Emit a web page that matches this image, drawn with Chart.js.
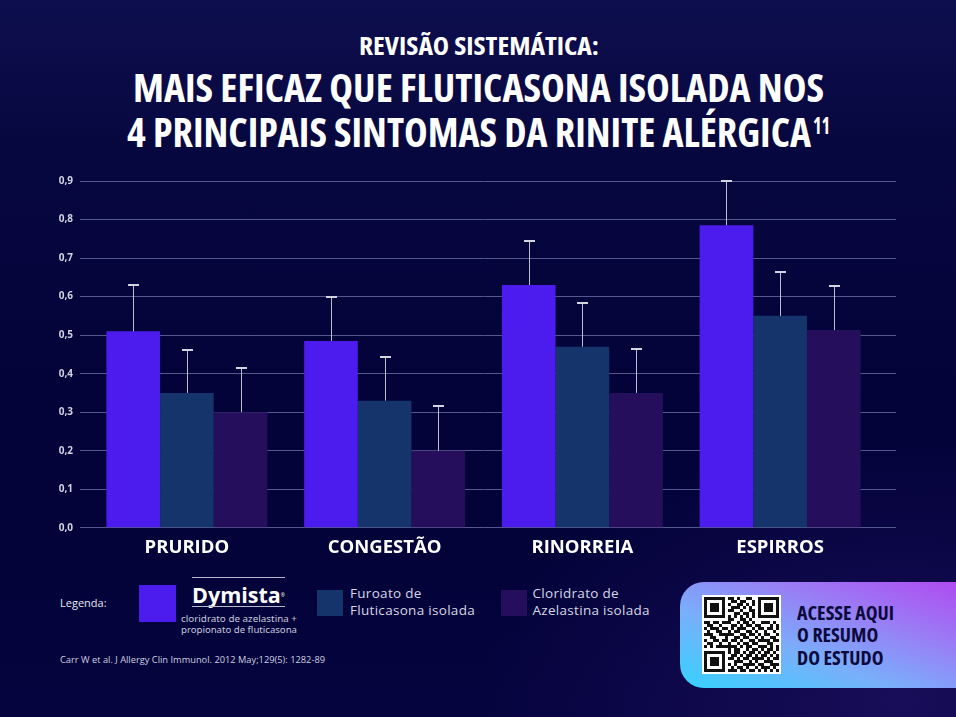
<!DOCTYPE html>
<html>
<head>
<meta charset="utf-8">
<script src="https://cdn.jsdelivr.net/npm/chart.js@4.4.1/dist/chart.umd.min.js"></script>
<style>
  html, body { margin:0; padding:0; }
  body { width:956px; height:717px; overflow:hidden; position:relative;
    background:
      radial-gradient(ellipse 420px 260px at 900px 700px, rgba(40,20,110,0.55), rgba(40,20,110,0) 100%),
      linear-gradient(to bottom, #0d0e4d 0%, #07073f 22%, #03033a 55%, #03033a 80%, #05043e 100%);
    font-family: "Open Sans", "Noto Sans", sans-serif; }
  .abs { position:absolute; white-space:nowrap; }
  .title { font-family:"Open Sans", "Liberation Sans Narrow", sans-serif; font-weight:700; font-stretch:75%; color:#fff; line-height:1; }
  .fit { display:inline-block; transform-origin:left top; }
  #chartWrap { position:absolute; left:0; top:160px; width:956px; height:410px; }
  .sw { position:absolute; }
  .legtxt { color:#d6d6e6; font-size:13.5px; line-height:16.5px; letter-spacing:0.3px; }
  #qrbox { position:absolute; left:680px; top:582px; width:310px; height:106px; border-radius:24px;
    background: linear-gradient(20deg, #35d2ff 0%, #78b0fb 35%, #9a7cf5 65%, #b342f0 100%); overflow:hidden; }
  #qrwhite { position:absolute; left:22px; top:13px; width:79px; height:79px; background:#fff; }
  .qrt { font-family:"Open Sans", "Liberation Sans Narrow", sans-serif; font-weight:700; font-stretch:75%; color:#0c0a3c; font-size:19.6px; line-height:1; }
</style>
</head>
<body>
<div class="abs title" style="left:359px; top:33.7px; font-size:24.5px;"><span class="fit" data-w="240">REVISÃO SISTEMÁTICA:</span></div>
<div class="abs title" style="left:133px; top:67.2px; font-size:39.2px;"><span class="fit" data-w="691">MAIS EFICAZ QUE FLUTICASONA ISOLADA NOS</span></div>
<div class="abs title" style="left:127px; top:111.9px; font-size:40.6px;"><span class="fit" data-w="684">4 PRINCIPAIS SINTOMAS DA RINITE ALÉRGICA</span></div>
<div class="abs title" style="left:813px; top:115px; font-size:22.4px;"><span class="fit" data-w="17">11</span></div>

<div id="chartWrap"><canvas id="c" width="956" height="410" style="width:956px;height:410px;"></canvas></div>

<!-- legend -->
<div class="abs" style="left:60px; top:595px; font-size:11px; color:#e6e6f0; line-height:16px;">Legenda:</div>
<div class="sw" style="left:139px; top:585px; width:37px; height:37px; background:#4b1ced;"></div>
<div class="abs" style="left:192px; top:577px; width:93px; height:1px; background:#b8b8cc;"></div>
<div class="abs" style="left:192px; top:583px; width:93px; text-align:center; color:#fff; font-weight:700; font-size:21.5px; line-height:24px;">Dymista<span style="font-size:5px; vertical-align:top; font-weight:400;">®</span></div>
<div class="abs" style="left:192px; top:606px; width:93px; height:1px; background:#b8b8cc;"></div>
<div class="abs" style="left:181px; top:613px; font-family:'Noto Sans', sans-serif; font-size:9px; line-height:11.4px; color:#c8c8dc;"><span class="fit" data-w="116">cloridrato de azelastina +</span><br><span class="fit" data-w="116">propionato de fluticasona</span></div>

<div class="sw" style="left:317px; top:590px; width:26px; height:26px; background:#14346b;"></div>
<div class="abs legtxt" style="left:350px; top:585.2px;">Furoato de<br>Fluticasona isolada</div>
<div class="sw" style="left:501px; top:590px; width:26px; height:26px; background:#250f5c;"></div>
<div class="abs legtxt" style="left:532.5px; top:585.2px;">Cloridrato de<br>Azelastina isolada</div>

<div class="abs" style="left:60px; top:654px; font-size:9px; line-height:12px; color:#cfcfe0;"><span class="fit" data-w="265">Carr W et al. J Allergy Clin Immunol. 2012 May;129(5): 1282-89</span></div>

<div id="qrbox">
  <div id="qrwhite"><canvas id="qr" width="79" height="79"></canvas></div>
  <div class="abs qrt" style="left:117px; top:20.6px;"><span class="fit" data-w="97" id="qt1">ACESSE AQUI</span></div>
  <div class="abs qrt" style="left:117px; top:43.2px;"><span class="fit qsame">O RESUMO</span></div>
  <div class="abs qrt" style="left:117px; top:65.6px;"><span class="fit qsame">DO ESTUDO</span></div>
</div>

<script>
// ---- data ----
const categories = ["PRURIDO", "CONGESTÃO", "RINORREIA", "ESPIRROS"];
const dymista      = [0.51, 0.485, 0.63, 0.785];
const dymistaErr   = [0.63, 0.60, 0.745, 0.90];
const fluticasona    = [0.35, 0.33, 0.47, 0.55];
const fluticasonaErr = [0.462, 0.444, 0.583, 0.665];
const azelastina     = [0.30, 0.20, 0.35, 0.513];
const azelastinaErr  = [0.415, 0.315, 0.463, 0.628];
const yTicks = [0, 0.1, 0.2, 0.3, 0.4, 0.5, 0.6, 0.7, 0.8, 0.9];

const gridColor = '#55588c';

const errorBars = {
  id: 'errorBars',
  afterDatasetsDraw(chart) {
    const ctx = chart.ctx;
    const ys = chart.scales.y;
    chart.data.datasets.forEach((ds, di) => {
      const meta = chart.getDatasetMeta(di);
      meta.data.forEach((bar, i) => {
        const x = Math.round(bar.x) + 0.5;
        const yTop = ys.getPixelForValue(ds.errorHigh[i]);
        ctx.save();
        ctx.strokeStyle = '#bdbdcc';
        ctx.lineWidth = 1;
        ctx.beginPath();
        ctx.moveTo(x, bar.y);
        ctx.lineTo(x, yTop);
        ctx.stroke();
        ctx.strokeStyle = '#d4d4e0';
        ctx.lineWidth = 2;
        ctx.beginPath();
        ctx.moveTo(x - 5.5, Math.round(yTop));
        ctx.lineTo(x + 5.5, Math.round(yTop));
        ctx.stroke();
        ctx.restore();
      });
    });
  }
};

new Chart(document.getElementById('c'), {
  type: 'bar',
  data: {
    labels: categories,
    datasets: [
      { label: 'Dymista', data: dymista, errorHigh: dymistaErr, backgroundColor: '#4b1ced' },
      { label: 'Furoato de Fluticasona isolada', data: fluticasona, errorHigh: fluticasonaErr, backgroundColor: '#14346b' },
      { label: 'Cloridrato de Azelastina isolada', data: azelastina, errorHigh: azelastinaErr, backgroundColor: '#250f5c' }
    ]
  },
  options: {
    responsive: false,
    devicePixelRatio: 1,
    animation: false,
    datasets: { bar: { barPercentage: 1.0, categoryPercentage: 0.814 } },
    layout: { padding: { left: 0, right: 60, top: 21, bottom: 2 } },
    plugins: { legend: { display: false }, tooltip: { enabled: false } },
    scales: {
      x: {
        grid: { display: false, drawTicks: false },
        border: { display: false },
        ticks: { color: '#ffffff', font: { family: 'Open Sans', size: 18.5, weight: '700' }, padding: 9, maxRotation: 0 }
      },
      y: {
        min: 0, max: 0.9,
        afterBuildTicks(scale) { scale.ticks = yTicks.map(v => ({ value: v })); },
        afterFit(scale) { scale.width = 88; },
        grid: { color: gridColor, lineWidth: 1, tickLength: 8, drawTicks: true },
        border: { display: false },
        ticks: { color: '#d2d2e2', font: { family: 'Open Sans', size: 10, weight: '700' }, padding: 7,
                 callback: v => Number(v).toFixed(1).replace('.', ',') }
      },
      y2: {
        position: 'right',
        min: 0, max: 0.9,
        afterBuildTicks(scale) { scale.ticks = yTicks.map(v => ({ value: v })); },
        afterFit(scale) { scale.width = 17; },
        grid: { color: gridColor, lineWidth: 1, tickLength: 17, drawTicks: true, drawOnChartArea: false },
        border: { display: false },
        ticks: { display: false }
      }
    }
  },
  plugins: [errorBars]
});

// ---- QR decoration ----
const F = ["1111111","1000001","1011101","1011101","1011101","1000001","1111111"];
const mid = ["110100110","011011001","100110101","011101010","110010011","001101101","101010101"];
const qrRows = [];
for (let i = 0; i < 7; i++) qrRows.push(F[i] + "0" + mid[i] + "0" + F[i]);
qrRows.push("00000000" + "110011010" + "00000000");
qrRows.push("1101101110010110100111010");
qrRows.push("0110010001101011011000101");
qrRows.push("1011101101011100101101101");
qrRows.push("0100110010110011010010010");
qrRows.push("1110011111001101101011001");
qrRows.push("0011000100110110010100110");
qrRows.push("1001101101101001101111011");
qrRows.push("0110010010010110110001100");
qrRows.push("1010111111101011001110101");
qrRows.push("00000000" + "10110010110101101");
const tail = ["10110101101011010","01101011010110101","11010110111101011","00111001010011100","10100111101100111","01011010010111010","11101101101010101"];
for (let i = 0; i < 7; i++) qrRows.push(F[i] + "0" + tail[i]);
const qctx = document.getElementById('qr').getContext('2d');
qctx.fillStyle = '#111';
qrRows.forEach((row, r) => {
  for (let c = 0; c < 25; c++) if (row[c] === '1') qctx.fillRect(2 + c * 3, 2 + r * 3, 3, 3);
});

// ---- fit condensed texts ----
function fitAll() {
  document.querySelectorAll('.fit[data-w]').forEach(el => {
    el.style.transform = 'none';
    const w = el.getBoundingClientRect().width;
    const s = parseFloat(el.dataset.w) / w;
    el.style.transform = 'scaleX(' + s + ')';
    if (el.id === 'qt1') {
      document.querySelectorAll('.qsame').forEach(q => q.style.transform = 'scaleX(' + s + ')');
    }
  });
}
fitAll();
if (document.fonts && document.fonts.ready) document.fonts.ready.then(fitAll);
</script>
</body>
</html>
